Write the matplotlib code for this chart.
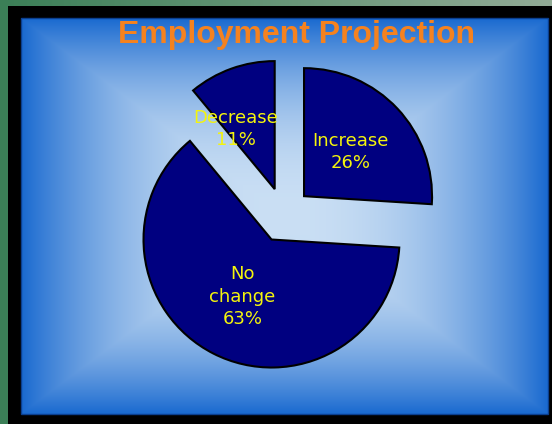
import numpy as np
import matplotlib
matplotlib.use("Agg")
import matplotlib.pyplot as plt
from matplotlib.patches import Rectangle
from matplotlib.colors import to_rgb

# employment outlook shares, clockwise from 12 o'clock
names = ["Increase", "No\nchange", "Decrease"]
shares = [26, 63, 11]
title = "Employment Projection"

W, H = 552, 424

fig = plt.figure(figsize=(W / 100, H / 100), dpi=100)
fig.patch.set_facecolor("#3b7f57")
ax = fig.add_axes([0, 0, 1, 1])

# top strip fades from green to a greyish green
strip = np.linspace(0, 1, 200)[None, :, None]
g0 = np.array(to_rgb("#3b7f57"))
g1 = np.array(to_rgb("#92ab96"))
ax.imshow(g0 * (1 - strip) + g1 * strip, extent=[0, W, H - 6, H],
          aspect="auto", zorder=0)

# black frame
ax.add_patch(Rectangle((8, 0), W - 8, H - 6, facecolor="black",
                       edgecolor="none", zorder=1))

# blue panel with a rectangular centre gradient
px0, px1 = 21, 548
py0, py1 = H - 414, H - 18
pw, ph = px1 - px0, py1 - py0
xx, yy = np.meshgrid(np.linspace(-1, 1, pw), np.linspace(-1, 1, ph))
t = np.maximum(np.abs(xx), np.abs(yy)) ** 2.2
c_in = np.array(to_rgb("#cadff4"))
c_out = np.array(to_rgb("#1a6ad0"))
grad = c_in * (1 - t[..., None]) + c_out * t[..., None]
ax.imshow(grad, extent=[px0, px1, py0, py1], aspect="auto", zorder=2)
ax.add_patch(Rectangle((px0, py0), pw, ph, facecolor="none",
                       edgecolor="#0b3f8f", lw=1, zorder=3))

# exploded pie
labels = [f"{n}\n{v}%" for n, v in zip(names, shares)]
wedges, texts = ax.pie(shares, labels=labels, colors=["#000080"] * 3,
                       explode=[27.5] * 3, radius=128, center=(284, H - 215),
                       startangle=90, counterclock=False,
                       labeldistance=0.5,
                       wedgeprops=dict(edgecolor="black", linewidth=1.5,
                                       zorder=4),
                       textprops=dict(color="#f4f40c", fontsize=13,
                                      ha="center", va="center",
                                      linespacing=1.3, zorder=5))
# the small slice's label sits a bit further left
tx, ty = texts[2].get_position()
texts[2].set_position((tx - 17, ty))

ax.text(296, H - 43, title, ha="center", va="baseline", fontsize=23,
        fontweight="bold", family="Liberation Sans", color="#f5821f",
        zorder=6)

ax.set_xlim(0, W)
ax.set_ylim(0, H)
ax.set_aspect("auto")
ax.axis("off")

fig.savefig("out.png", dpi=100)
